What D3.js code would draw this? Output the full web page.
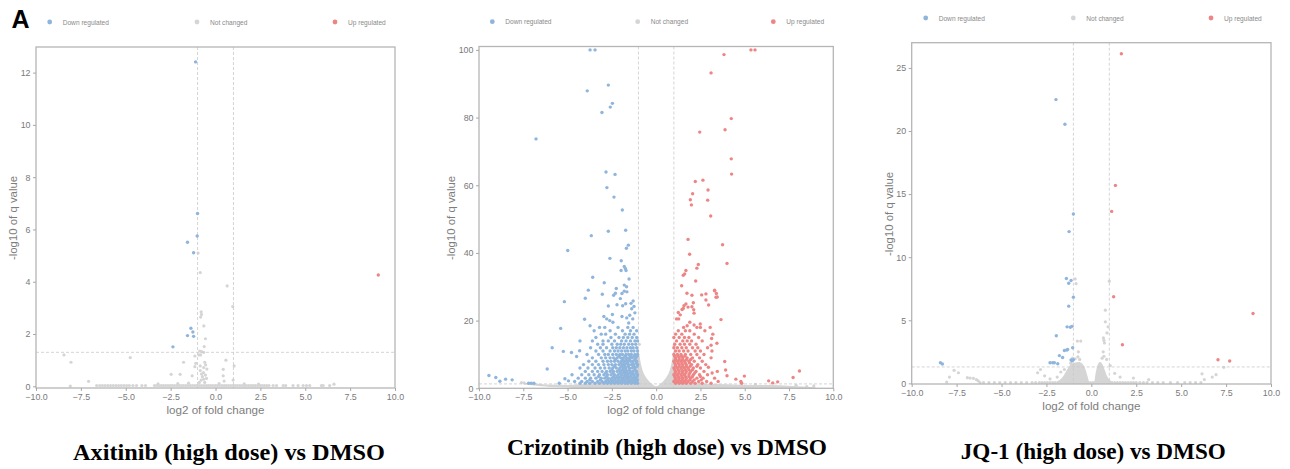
<!DOCTYPE html>
<html>
<head>
<meta charset="utf-8">
<script src="https://cdn.jsdelivr.net/npm/d3@7"></script>
<style>
  body { margin: 0; background: #fff; }
  svg { display: block; font-family: "Liberation Sans", Arial, sans-serif; }
</style>
</head>
<body>
<svg id="fig" width="1290" height="469"></svg>
<script>
// shared
var xTicks = [-10, -7.5, -5, -2.5, 0, 2.5, 5, 7.5, 10];
var legendLabels = ["Down regulated", "Not changed", "Up regulated"];
var panelTitles = ["Axitinib (high dose) vs DMSO", "Crizotinib (high dose) vs DMSO", "JQ-1 (high dose) vs DMSO"];
var fcCut = [-1, 1];
var qCut = 1.3;

// Axitinib
var axiYTicks = [0, 2, 4, 6, 8, 10, 12];
var axiDown = [[-1.11,12.41],[-1.0,6.61],[-1.02,5.75],[-1.56,5.51],[-1.22,5.11],[-1.37,2.22],[-1.26,2.08],
  [-1.56,1.94],[-1.22,1.91],[-2.37,1.51]];
var axiUp = [[9.07,4.26]];
var axiGray = [[-0.97,5.1],[-0.85,4.35],[0.65,3.84],[0.96,3.05],[-0.8,2.85],[-0.78,2.75],[-0.83,2.65],
  [-0.65,2.31],[-0.56,1.82],[-0.63,1.52],[-0.88,1.35],[-0.78,1.33],[-0.66,1.3],[-0.92,1.2],[-0.83,1.2],
  [-1.15,1.16],[-8.44,1.2],[-8.05,0.92],[-4.75,1.1],[-1.78,0.92],[-1.1,0.88],[-1.15,0.75],[-0.6,0.92],
  [-0.55,0.82],[-0.66,0.72],[-0.48,0.66],[-0.85,0.78],[0.58,1.0],[1.04,0.78],[0.43,0.65],[-2.47,0.46],
  [-1.97,0.46],[-1.3,0.4],[-0.85,0.6],[-0.78,0.47],[-0.67,0.52],[-0.56,0.43],[-0.73,0.37],[-0.66,0.27],
  [-0.5,0.3],[-0.8,0.24],[-0.9,0.15],[-0.6,0.15],[0.43,0.4],[0.48,0.2],[0.98,0.24],[-7.07,0.19],
  [-8.09,0.01],[6.6,0.08],[-3.2,0.09],[-2.1,0.1],[-1.5,0.12],[0.2,0.1],[1.6,0.09],[2.4,0.08]];
var axiBaseX = [-6.62,-6.45,-6.3,-6.15,-6.0,-5.85,-5.7,-5.55,-5.4,-5.25,-5.1,-4.95,-4.8,-4.6,-4.4,-4.1,-3.9,
  -3.4,-3.28,-3.15,-3.02,-2.9,-2.78,-2.65,-2.52,-2.4,-2.28,-2.15,-2.02,-1.9,-1.78,-1.65,-1.52,-1.4,-1.28,
  -1.15,-1.02,-0.9,-0.78,-0.65,-0.52,-0.4,-0.28,-0.15,-0.02,0.1,0.22,0.35,0.48,0.6,0.72,0.85,0.98,1.1,1.22,
  1.35,1.48,1.6,1.72,1.85,1.98,2.1,2.22,2.35,2.48,2.6,2.72,2.85,2.98,3.21,3.4,3.77,3.91,4.32,4.6,4.88,5.07,
  5.25,5.9,6.0,6.36];
var axiBaseY = 0.03;

// Crizotinib
var crizYTicks = [0, 20, 40, 60, 80, 100];
var crizDown = [[-3.73,100],[-3.45,100],[-3.89,87.9],[-2.70,89.6],[-2.47,84.2],[-2.59,83.1],[-3.06,81.5],
  [-6.78,73.7],[-2.83,63.9],[-2.32,63.2],[-2.78,59.3],[-2.38,56.5],[-1.91,52.7],[-1.72,46.7],[-2.70,46.4],
  [-3.66,45.1],[-1.57,42.3],[-1.68,41.4],[-4.99,40.7],[-2.61,38.4],[-1.97,37.7],[-1.8,36],[-1.74,35.4],
  [-1.7,34.8],[-1.98,34.8],[-3.58,32.8],[-1.53,32.3],[-2.93,31.2],[-1.8,30.5],[-1.67,30],[-2.25,29.5],
  [-3.83,29],[-1.8,28.7],[-1.65,28.5],[-1.93,28],[-3.04,27.8],[-2.4,27.5],[-2.3,28.1],[-4.0,26.6],
  [-2.02,26.5],[-1.3,25.8],[-1.42,25.1],[-5.18,25.6],[-1.72,25.0],[-2.21,24.7],[-1.89,24.4],[-2.70,24.3],
  [-1.25,24.2],[-1.38,23.5],[-2.47,21.8],[-1.49,21.6],[-1.93,21.2],[-1.66,20.8],[-1.32,20.5],[-4.04,20.4],
  [-2.79,20.5],[-2.62,20],[-2.44,19.5],[-3.73,18.5],[-5.39,17.7],[-1.2,22.3],[-1.55,19.3],[-2.95,21.2],
  [-9.44,3.8],[-9.05,3.2],[-8.82,2.1],[-8.5,2.7],[-8.13,2.5],[-5.87,12],[-5.24,10.9],[-4.78,10.6],
  [-4.49,9.4],[-4.32,11.1],[-6.15,5.7],[-5.15,2.8],[-4.95,2.2]];
var crizDownRows = [
  [18, [-3.2,-2.9,-2.15,-1.6,-1.3]],
  [17, [-3.5,-2.6,-1.9,-1.45,-1.1]],
  [16, [-3.1,-2.85,-2.3,-1.75,-1.5,-1.25]],
  [15, [-3.4,-2.55,-2.1,-1.85,-1.6,-1.35,-1.1]],
  [14, [-4.3,-3.6,-3.0,-2.7,-2.35,-1.95,-1.7,-1.45,-1.2,-1.05]],
  [13, [-3.3,-3.0,-2.5,-2.2,-2.0,-1.8,-1.55,-1.35,-1.15]],
  [12, [-3.7,-3.15,-2.8,-2.45,-2.25,-2.05,-1.85,-1.65,-1.45,-1.3,-1.1]],
  [11, [-3.4,-3.0,-2.6,-2.35,-2.15,-1.95,-1.75,-1.6,-1.4,-1.25,-1.05]],
  [10, [-3.9,-3.25,-2.9,-2.7,-2.45,-2.25,-2.05,-1.9,-1.7,-1.55,-1.4,-1.2,-1.05]],
  [9, [-3.6,-3.1,-2.85,-2.6,-2.4,-2.2,-2.0,-1.85,-1.65,-1.5,-1.35,-1.15]],
  [8, [-3.8,-3.4,-3.0,-2.75,-2.55,-2.35,-2.15,-1.95,-1.8,-1.6,-1.45,-1.3,-1.1]],
  [7, [-4.1,-3.6,-3.25,-2.95,-2.7,-2.5,-2.3,-2.1,-1.9,-1.75,-1.55,-1.4,-1.25,-1.05]],
  [6, [-4.3,-3.85,-3.45,-3.15,-2.9,-2.65,-2.45,-2.25,-2.05,-1.85,-1.7,-1.5,-1.35,-1.2]],
  [5, [-4.0,-3.6,-3.3,-3.05,-2.8,-2.6,-2.4,-2.2,-2.0,-1.8,-1.65,-1.45,-1.3,-1.1]],
  [4, [-4.75,-4.2,-3.8,-3.5,-3.2,-2.95,-2.75,-2.55,-2.35,-2.15,-1.95,-1.75,-1.6,-1.4,-1.25,-1.05]],
  [3, [-4.4,-4.0,-3.7,-3.4,-3.1,-2.9,-2.7,-2.5,-2.3,-2.1,-1.9,-1.7,-1.55,-1.35,-1.15]],
  [2, [-4.6,-4.2,-3.9,-3.6,-3.3,-3.05,-2.85,-2.65,-2.45,-2.25,-2.05,-1.85,-1.65,-1.5,-1.3,-1.1]],
  [1.5, [-7.2,-7.05,-6.9,-5.47,-4.3,-4.0,-3.75,-3.45,-3.2,-2.95,-2.75,-2.55,-2.35,-2.15,-1.95,-1.75,-1.6,-1.4,-1.2,-1.05]],
  [9.5, [-2.1,-1.75,-1.45,-1.25,-1.08]],
  [8.5, [-2.3,-1.9,-1.7,-1.5,-1.2]],
  [7.5, [-2.0,-1.8,-1.62,-1.32,-1.12]],
  [6.5, [-2.35,-1.95,-1.78,-1.58,-1.28,-1.08]],
  [5.5, [-2.5,-2.1,-1.9,-1.72,-1.52,-1.2]],
  [4.5, [-2.85,-2.45,-2.05,-1.85,-1.68,-1.5,-1.32,-1.12]],
  [3.5, [-3.25,-2.8,-2.4,-2.2,-2.0,-1.8,-1.62,-1.45,-1.25,-1.08]],
  [2.5, [-3.75,-3.15,-2.75,-2.55,-2.35,-2.15,-1.95,-1.78,-1.58,-1.4,-1.2,-1.05]]
];
var crizUp = [[5.35,100],[5.58,100],[3.83,98.6],[3.10,93.2],[4.24,79.7],[3.89,76.4],[2.46,75.7],
  [4.24,67.8],[4.26,63.3],[2.64,61.5],[2.21,61.1],[2.93,58.6],[2.06,57.5],[1.93,55.7],[1.99,54.2],
  [2.91,55.6],[3.08,50.9],[1.80,44.0],[3.75,42.4],[1.89,39.6],[4.0,36.9],[2.38,36.6],[2.30,35.5],
  [1.68,34.8],[1.61,33.8],[1.53,33.4],[2.23,31.7],[1.44,30.3],[3.30,28.8],[1.74,28.1],[2.02,27.5],
  [2.81,27.9],[2.57,27.6],[3.38,26.9],[2.81,26.1],[2.96,24.6],[1.68,24.9],[1.57,24.4],[1.53,23.6],
  [1.46,23.3],[2.1,25.3],[2.02,24.1],[1.8,24.0],[1.25,22.4],[1.36,21.7],[2.12,23.2],[2.14,22.2],
  [1.15,20.5],[1.27,20.5],[1.9,19.5],[1.75,18.5],[2.49,19.0],[3.66,20.3],[2.14,18.7],[3.45,27],
  [3.4,28],[3.3,29],[3.13,14.7],[3.43,13.3],[3.87,7.9],[3.92,5.4],[4.0,3.7],[3.16,4.5],[2.95,6.2],
  [3.1,9.0],[3.1,12.7],[4.98,3.6],[7.73,3.2],[8.09,5.1],[6.35,2.2],[6.58,1.6],[6.86,1.9],[4.5,2.7]];
var crizUpRows = [
  [18, [1.55,2.3,2.5,3.05]],
  [17, [1.25,1.65,1.9,2.75]],
  [16, [1.1,1.45,2.15,3.2]],
  [15, [1.0,1.3,1.6,1.85,2.4]],
  [14, [1.15,1.5,1.75,2.0,2.6]],
  [13, [1.05,1.35,1.6,1.9,2.25]],
  [12, [1.0,1.2,1.45,1.7,2.05,2.35,2.9]],
  [11, [1.1,1.3,1.55,1.8,2.2,2.5,3.15]],
  [10, [1.0,1.2,1.4,1.65,1.95,2.3,2.7]],
  [9, [1.1,1.3,1.5,1.75,2.05,2.45]],
  [8, [1.0,1.2,1.4,1.6,1.85,2.15,2.6]],
  [7, [1.1,1.3,1.5,1.7,2.0,2.35,2.8]],
  [6, [1.0,1.2,1.4,1.6,1.8,2.1,2.5]],
  [5, [1.1,1.3,1.5,1.7,1.95,2.25,2.7,3.45]],
  [4, [1.0,1.2,1.4,1.6,1.85,2.1,2.45,2.9]],
  [3, [1.1,1.3,1.5,1.7,1.95,2.3,2.65,3.3]],
  [2, [1.0,1.2,1.4,1.6,1.8,2.05,2.4,2.85,3.5,4.78]],
  [1.5, [1.1,1.3,1.5,1.7,1.95,2.2,2.6,3.1,4.83]],
  [9.5, [1.05,1.25,1.45,1.62]],
  [8.5, [1.1,1.3,1.5,1.72,1.95]],
  [7.5, [1.05,1.25,1.45,1.65,1.88]],
  [6.5, [1.1,1.3,1.5,1.7,1.92,2.3]],
  [5.5, [1.05,1.25,1.45,1.65,1.85,2.05]],
  [4.5, [1.08,1.28,1.48,1.68,1.9,2.18]],
  [3.5, [1.05,1.25,1.45,1.65,1.85,2.05,2.5]],
  [2.5, [1.08,1.28,1.48,1.68,1.9,2.15,2.55]]
];
var crizGray = [[-7.6,1.7],[-7.45,1.6],[8.5,0.5],[8.9,0.7],[7.9,0.9],[5.6,1.2],[-0.95,13.0],[1.02,12.6]];
// dense "not changed" mass: [log2FC, low, high]
var crizCloud = [[-7.5,1.2,1.6],[-7.0,0.9,1.5],[-6.5,0.6,1.3],[-6.0,0.4,1.1],[-5.0,0.2,1.0],[-4.4,0,1.2],
  [-3.5,0,1.5],[-2.5,0,1.8],[-1.5,0,2.5],[-1.15,0,5],[-1.08,0,12.5],[-0.97,0,10.5],[-0.86,0,7.2],
  [-0.73,0,4.8],[-0.56,0,3.1],[-0.4,0,2.1],[-0.2,0,1.1],[0,0,0.6],[0.2,0,1.1],[0.4,0,2.1],[0.56,0,3.1],
  [0.73,0,4.8],[0.86,0,7.2],[0.97,0,10.5],[1.06,0,12.0],[1.13,0,4],[1.5,0,2],[2.5,0,1.5],[4,0,1.2],
  [5.5,0,1.0],[7,0,0.9],[8,0,0.6],[9,0,0.3]];

// JQ-1
var jqYTicks = [0, 5, 10, 15, 20, 25];
var jqDown = [[-1.97,22.49],[-1.47,20.54],[-1.0,13.42],[-1.24,12.03],[-1.39,8.31],[-1.13,8.15],
  [-1.26,7.94],[-1.0,6.83],[-1.26,6.12],[-1.35,4.48],[-1.17,4.45],[-1.08,4.52],[-1.95,3.77],[-1.04,2.82],
  [-1.5,2.6],[-1.37,2.65],[-1.32,2.68],[-1.78,2.2],[-1.6,2.05],[-1.13,1.85],[-1.06,1.78],[-1.0,1.88],
  [-1.87,1.56],[-2.3,1.63],[-2.15,1.63],[-2.06,1.63],[-8.4,1.63],[-8.29,1.53]];
var jqUp = [[1.67,26.13],[1.34,15.69],[1.13,13.63],[1.24,6.86],[1.73,3.06],[9.0,5.54],[7.05,1.87],[7.7,1.77]];
var jqGray = [[-0.9,8.28],[-0.85,7.9],[1.0,8.1],[0.78,5.8],[0.78,4.88],[0.93,4.48],[0.87,4.0],[0.67,3.6],
  [0.7,3.4],[0.73,3.2],[-0.78,3.35],[-0.59,3.35],[-0.72,2.5],[0.66,2.5],[0.7,2.15],[-2.99,0.84],
  [-2.83,1.1],[-7.64,1.03],[-7.4,0.84],[-7.9,0.5],[6.16,0.76],[6.29,0.3],[6.73,0.5],[6.94,0.69],
  [7.37,1.27],[-6.9,0.45],[-6.75,0.42],[-6.57,0.4],[-6.4,0.3],[-6.3,0.2],[2.34,0.42],[3.19,0.3],
  [-8.05,0.1],[-2.6,0.6],[-2.3,0.35],[-1.9,0.5],[-1.7,0.9],[-1.5,1.1],[-1.15,1.6],[-1.05,2.0],
  [-0.9,1.95],[-0.75,2.1],[0.85,1.9],[1.05,1.4],[1.3,0.8],[1.6,0.5],[-0.65,1.9],[0.6,2.0]];
var jqBaseX = [-6.2,-6.0,-5.7,-5.4,-5.1,-4.8,-4.5,-4.2,-3.9,-3.6,-3.3,-3.1,-2.9,-2.75,-2.6,-2.45,-2.3,
  -2.15,-2.0,-1.85,-1.7,-1.55,-1.4,-1.25,-1.1,-0.95,-0.8,-0.65,-0.5,-0.35,-0.2,-0.05,0.1,0.25,0.4,0.55,
  0.7,0.85,1.0,1.15,1.3,1.45,1.6,1.75,1.9,2.05,2.2,2.35,2.5,2.7,2.9,3.1,3.4,3.7,4.0,4.4,4.8,5.2,5.5,5.8,6.1];
var jqBaseY = 0.06;
var jqCloud = [[-1.9,0,0.15],[-1.6,0,0.5],[-1.35,0,1.1],[-1.15,0,1.5],[-0.9,0,1.65],[-0.7,0,1.7],
  [-0.5,0,1.55],[-0.35,0,1.2],[-0.22,0,0.6],[-0.1,0,0.1],[0.15,0,0.1],[0.25,0,0.9],[0.35,0,1.45],
  [0.47,0,1.7],[0.6,0,1.55],[0.72,0,1.15],[0.85,0,0.65],[1.0,0,0.3],[1.2,0,0.1]];

// ---------------------------------------------------------------
var colors = { down: "#8fb5dc", nc: "#d5d5d5", up: "#ee8585" };
var svg = d3.select("#fig");

function rowsToPts(rows) {
  return rows.flatMap(function(r) { return r[1].map(function(x) { return [x, r[0]]; }); });
}

var panels = [
  { id: "axi", left: 36, right: 395, top: 47, bottom: 388, yDomain: [-0.065, 12.98], yTicks: axiYTicks,
    legendY: 22, legendX: [49.7, 197, 335], xLabelY: 409, yLabelX: 13.3, yLabelY: 218,
    down: axiDown, up: axiUp,
    gray: axiGray.concat(axiBaseX.map(function(x) { return [x, axiBaseY]; })), cloud: null,
    title: panelTitles[0], titleX: 229, titleY: 460, titleLen: 312 },
  { id: "criz", left: 479, right: 833.3, top: 46.5, bottom: 388.3, yDomain: [0, 101], yTicks: crizYTicks,
    legendY: 21.7, legendX: [492.3, 637.7, 773.3], xLabelY: 409.3, yLabelX: 450.7, yLabelY: 218,
    down: crizDown.concat(rowsToPts(crizDownRows)), up: crizUp.concat(rowsToPts(crizUpRows)),
    gray: crizGray, cloud: crizCloud,
    title: panelTitles[1], titleX: 667, titleY: 455, titleLen: 320 },
  { id: "jq", left: 911.7, right: 1271, top: 42.7, bottom: 384, yDomain: [-0.05, 27.0], yTicks: jqYTicks,
    legendY: 18, legendX: [925.7, 1073.3, 1211], xLabelY: 405.7, yLabelX: 889.3, yLabelY: 214,
    down: jqDown, up: jqUp,
    gray: jqGray.concat(jqBaseX.map(function(x) { return [x, jqBaseY]; })), cloud: jqCloud,
    title: panelTitles[2], titleX: 1093.3, titleY: 459, titleLen: 265 }
];

function drawPanel(p) {
  var x = d3.scaleLinear().domain([-10, 10]).range([p.left, p.right]);
  var y = d3.scaleLinear().domain(p.yDomain).range([p.bottom, p.top]);
  var g = svg.append("g").attr("class", p.id);

  g.append("clipPath").attr("id", "clip-" + p.id)
    .append("rect")
      .attr("x", p.left).attr("y", p.top)
      .attr("width", p.right - p.left).attr("height", p.bottom - p.top);
  var plot = g.append("g").attr("clip-path", "url(#clip-" + p.id + ")");

  // dense not-changed mass
  if (p.cloud) {
    plot.append("path")
      .datum(p.cloud)
      .attr("fill", colors.nc)
      .attr("d", d3.area()
        .x(function(d) { return x(d[0]); })
        .y0(function(d) { return y(d[1]); })
        .y1(function(d) { return y(d[2]); })
        .curve(d3.curveMonotoneX));
  }

  plot.selectAll("circle.nc")
    .data(p.gray)
    .enter()
    .append("circle")
      .attr("class", "nc")
      .attr("cx", function(d) { return x(d[0]); })
      .attr("cy", function(d) { return y(d[1]); })
      .attr("r", 1.6)
      .attr("fill", colors.nc);

  // thresholds
  fcCut.forEach(function(c) {
    plot.append("line")
      .attr("x1", x(c)).attr("x2", x(c))
      .attr("y1", p.top).attr("y2", p.bottom)
      .attr("stroke", "#c9c9c9").attr("stroke-width", 0.8)
      .attr("stroke-dasharray", "3,2");
  });
  plot.append("line")
    .attr("x1", p.left).attr("x2", p.right)
    .attr("y1", y(qCut)).attr("y2", y(qCut))
    .attr("stroke", "#c9c9c9").attr("stroke-width", 0.8)
    .attr("stroke-dasharray", "3,2");

  [["down", p.down], ["up", p.up]].forEach(function(s) {
    plot.selectAll("circle." + s[0])
      .data(s[1])
      .enter()
      .append("circle")
        .attr("class", s[0])
        .attr("cx", function(d) { return x(d[0]); })
        .attr("cy", function(d) { return y(d[1]); })
        .attr("r", 1.7)
        .attr("fill", colors[s[0]]);
  });

  // frame
  g.append("rect")
    .attr("x", p.left).attr("y", p.top)
    .attr("width", p.right - p.left).attr("height", p.bottom - p.top)
    .attr("fill", "none").attr("stroke", "#b5b5b5").attr("stroke-width", 1.3);

  // axes
  var xAxis = g.append("g")
    .attr("transform", "translate(0," + p.bottom + ")")
    .call(d3.axisBottom(x).tickValues(xTicks).tickSize(3).tickPadding(2.5).tickFormat(d3.format(".1f")));
  var yAxis = g.append("g")
    .attr("transform", "translate(" + p.left + ",0)")
    .call(d3.axisLeft(y).tickValues(p.yTicks).tickSize(3).tickPadding(2.5).tickFormat(d3.format("d")));
  [xAxis, yAxis].forEach(function(a) {
    a.select(".domain").remove();
    a.selectAll(".tick line").attr("stroke", "#a8a8a8");
    a.selectAll(".tick text").attr("fill", "#7a7a7a")
      .style("font-size", "8.9px").style("font-family", "'Liberation Sans', Arial, sans-serif");
  });

  g.append("text")
    .attr("x", (p.left + p.right) / 2).attr("y", p.xLabelY)
    .attr("text-anchor", "middle").attr("dominant-baseline", "central")
    .attr("fill", "#7d7d7d").style("font-size", "11.6px")
    .text("log2 of fold change");
  g.append("text")
    .attr("transform", "translate(" + p.yLabelX + "," + p.yLabelY + ") rotate(-90)")
    .attr("text-anchor", "middle").attr("dominant-baseline", "central")
    .attr("fill", "#7d7d7d").style("font-size", "11.4px")
    .text("-log10 of q value");

  // legend
  var keys = ["down", "nc", "up"];
  keys.forEach(function(k, i) {
    g.append("circle")
      .attr("cx", p.legendX[i]).attr("cy", p.legendY).attr("r", 2.4)
      .attr("fill", colors[k]);
    g.append("text")
      .attr("x", p.legendX[i] + 13).attr("y", p.legendY)
      .attr("dominant-baseline", "central")
      .attr("fill", "#8a8a8a").style("font-size", "6.6px")
      .text(legendLabels[i]);
  });

  // title under the panel
  svg.append("text")
    .attr("x", p.titleX).attr("y", p.titleY)
    .attr("text-anchor", "middle")
    .attr("textLength", p.titleLen).attr("lengthAdjust", "spacingAndGlyphs")
    .style("font-family", "'Liberation Serif', 'Times New Roman', serif")
    .style("font-weight", "bold").style("font-size", "23px")
    .attr("fill", "#000")
    .text(p.title);
}

panels.forEach(drawPanel);

svg.append("text")
  .attr("x", 11.5).attr("y", 28.3)
  .style("font-family", "'Liberation Sans', Arial, sans-serif")
  .style("font-weight", "bold").style("font-size", "25px")
  .attr("fill", "#000")
  .text("A");
</script>
</body>
</html>
